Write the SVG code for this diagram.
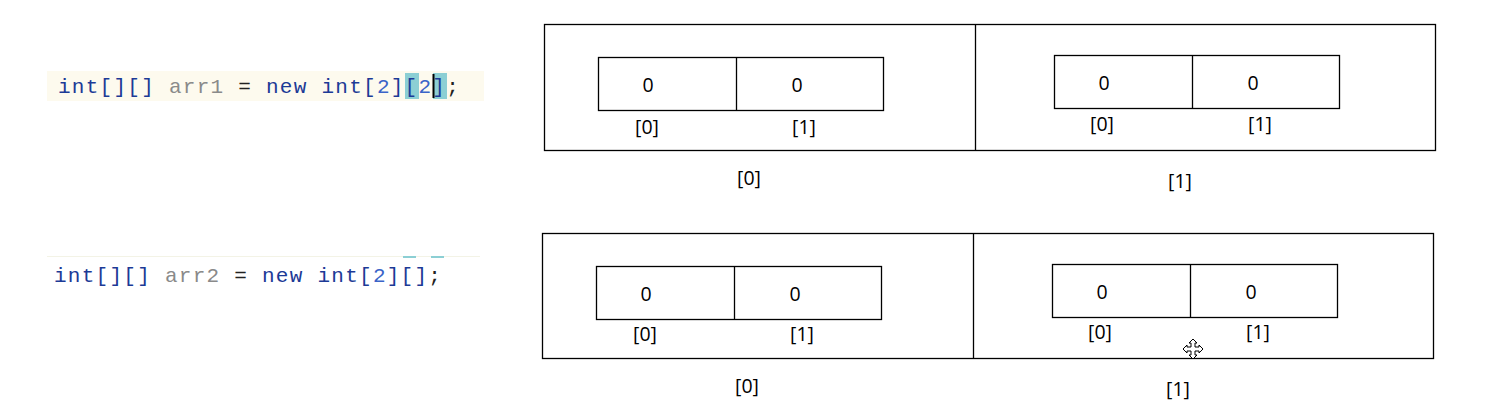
<svg xmlns="http://www.w3.org/2000/svg" width="1486" height="406" viewBox="0 0 1486 406">
<style>
.box{fill:none;stroke:#000;stroke-width:1.3}
.ln{stroke:#000;stroke-width:1.3}
.t{font-family:"Open Sans","Noto Sans",sans-serif;font-size:19.5px;fill:#000;text-anchor:middle}
.code{font-family:"Liberation Mono","DejaVu Sans Mono",monospace;font-size:21px;letter-spacing:1.26px}
.kw{fill:#1c3a96}
.id{fill:#8a8a8a}
.num{fill:#3a64c8}
.op{fill:#222}
</style>
<rect width="1486" height="406" fill="#fff"/>
<g id="code1">
<rect x="47" y="71" width="437" height="30" fill="#fdfaee"/>
<rect x="405" y="73" width="14" height="26" fill="#8ccfd4"/>
<rect x="433" y="73" width="14" height="26" fill="#8ccfd4"/>
<text x="58" y="93" class="code"><tspan class="kw">int[][]</tspan><tspan class="id"> arr1 </tspan><tspan class="op">= </tspan><tspan class="kw">new int[</tspan><tspan class="num">2</tspan><tspan class="kw">][</tspan><tspan class="num">2</tspan><tspan class="kw">]</tspan><tspan class="op">;</tspan></text>
<line x1="433.5" y1="74" x2="433.5" y2="98" stroke="#000" stroke-width="2"/>
</g>
<g id="code2">
<line x1="47" y1="256.5" x2="480" y2="256.5" stroke="#f3f3e6" stroke-width="1"/>
<rect x="403" y="256" width="13" height="2" fill="#8ccfd4"/>
<rect x="431" y="256" width="13" height="2" fill="#8ccfd4"/>
<text x="54" y="282" class="code"><tspan class="kw">int[][]</tspan><tspan class="id"> arr2 </tspan><tspan class="op">= </tspan><tspan class="kw">new int[</tspan><tspan class="num">2</tspan><tspan class="kw">][]</tspan><tspan class="op">;</tspan></text>
</g>
<g id="outer1">
<rect class="box" x="544.5" y="24.5" width="891" height="126"/>
<line class="ln" x1="975.5" y1="24.5" x2="975.5" y2="150.5"/>
<text class="t" x="749" y="185">[0]</text>
<text class="t" x="1180" y="188">[1]</text>
</g>
<g id="inner1a">
<rect class="box" x="598.5" y="57.5" width="285" height="53"/>
<line class="ln" x1="736.5" y1="57.5" x2="736.5" y2="110.5"/>
<text class="t" x="648" y="92">0</text>
<text class="t" x="797" y="92">0</text>
<text class="t" x="647" y="134">[0]</text>
<text class="t" x="804" y="134">[1]</text>
</g>
<g id="inner1b">
<rect class="box" x="1054.5" y="55.5" width="285" height="53"/>
<line class="ln" x1="1192.5" y1="55.5" x2="1192.5" y2="108.5"/>
<text class="t" x="1104" y="90">0</text>
<text class="t" x="1253" y="90">0</text>
<text class="t" x="1102" y="131">[0]</text>
<text class="t" x="1260" y="131">[1]</text>
</g>
<g id="outer2">
<rect class="box" x="542.5" y="233.5" width="891" height="125"/>
<line class="ln" x1="973.5" y1="233.5" x2="973.5" y2="358.5"/>
<text class="t" x="747" y="393">[0]</text>
<text class="t" x="1178" y="396">[1]</text>
</g>
<g id="inner2a">
<rect class="box" x="596.5" y="266.5" width="285" height="53"/>
<line class="ln" x1="734.5" y1="266.5" x2="734.5" y2="319.5"/>
<text class="t" x="646" y="301">0</text>
<text class="t" x="795" y="301">0</text>
<text class="t" x="645" y="341">[0]</text>
<text class="t" x="802" y="341">[1]</text>
</g>
<g id="inner2b">
<rect class="box" x="1052.5" y="264.5" width="285" height="53"/>
<line class="ln" x1="1190.5" y1="264.5" x2="1190.5" y2="317.5"/>
<text class="t" x="1102" y="299">0</text>
<text class="t" x="1251" y="299">0</text>
<text class="t" x="1100" y="339">[0]</text>
<text class="t" x="1258" y="339">[1]</text>
</g>
<g id="cursor">
<path d="M1193 339 l4 4 h-2 v4 h4 v-2 l4 4 l-4 4 v-2 h-4 v4 h2 l-4 4 l-4 -4 h2 v-4 h-4 v2 l-4 -4 l4 -4 v2 h4 v-4 h-2 z" fill="#fff" stroke="#000" stroke-width="1"/>
</g>
<g id="connectors"></g>
</svg>
